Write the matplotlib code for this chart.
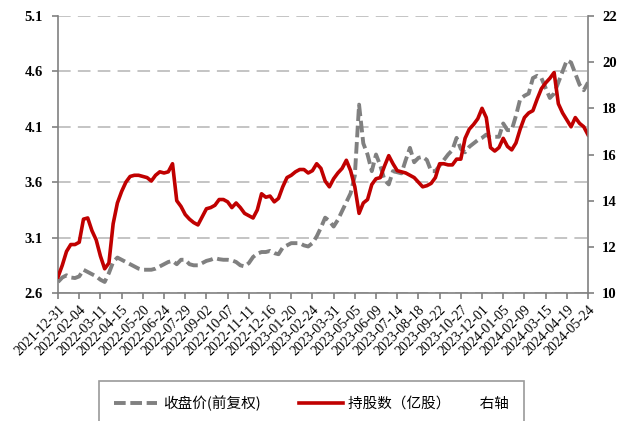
import matplotlib
matplotlib.use('Agg')
import matplotlib.pyplot as plt
import matplotlib.dates as mdates
import numpy as np
import pandas as pd

# weekly data
dates = pd.date_range('2021-12-31', periods=126, freq='7D')

price = [2.70, 2.74, 2.76, 2.74, 2.735, 2.75, 2.81, 2.79, 2.77, 2.75,
         2.72, 2.70, 2.78, 2.88, 2.92, 2.90, 2.88, 2.86, 2.84, 2.82,
         2.81, 2.81, 2.81, 2.82, 2.84, 2.86, 2.88, 2.89, 2.86, 2.90,
         2.90, 2.86, 2.85, 2.85, 2.87, 2.89, 2.90, 2.915, 2.905, 2.90,
         2.90, 2.895, 2.88, 2.85, 2.84, 2.87, 2.925, 2.955, 2.97, 2.97,
         2.98, 2.96, 2.95, 3.01, 3.03, 3.05, 3.05, 3.05, 3.03, 3.02,
         3.05, 3.11, 3.19, 3.28, 3.25, 3.20, 3.26, 3.34, 3.42, 3.50,
         3.66, 4.30, 3.95, 3.85, 3.70, 3.85, 3.75, 3.62, 3.58, 3.70,
         3.69, 3.68, 3.80, 3.91, 3.78, 3.82, 3.83, 3.80, 3.70, 3.70,
         3.75, 3.80, 3.85, 3.89, 4.00, 3.90, 3.87, 3.92, 3.95, 3.98,
         4.00, 4.03, 4.00, 4.01, 4.01, 4.13, 4.07, 4.07, 4.20, 4.35,
         4.38, 4.40, 4.54, 4.56, 4.54, 4.45, 4.36, 4.40, 4.50, 4.60,
         4.70, 4.68, 4.58, 4.48, 4.43, 4.50]

shares = [10.7, 11.2, 11.8, 12.1, 12.1, 12.2, 13.2, 13.25, 12.7, 12.3,
          11.6, 11.05, 11.3, 13.0, 13.9, 14.4, 14.8, 15.05, 15.1, 15.1,
          15.05, 15.0, 14.85, 15.1, 15.25, 15.2, 15.25, 15.6, 14.0, 13.75,
          13.4, 13.2, 13.05, 12.95, 13.3, 13.65, 13.7, 13.8, 14.05, 14.05,
          13.95, 13.7, 13.9, 13.7, 13.45, 13.35, 13.25, 13.6, 14.3, 14.15,
          14.2, 13.95, 14.1, 14.6, 15.0, 15.1, 15.25, 15.35, 15.35, 15.2,
          15.3, 15.6, 15.4, 14.85, 14.6, 14.95, 15.2, 15.4, 15.75, 15.3,
          14.6, 13.45, 13.9, 14.05, 14.7, 14.95, 15.0, 15.5, 15.95, 15.6,
          15.3, 15.25, 15.2, 15.1, 15.0, 14.8, 14.6, 14.65, 14.75, 15.0,
          15.6, 15.6, 15.55, 15.55, 15.8, 15.8, 16.7, 17.1, 17.3, 17.55,
          18.0, 17.6, 16.3, 16.15, 16.3, 16.7, 16.35, 16.2, 16.5, 17.1,
          17.6, 17.8, 17.9, 18.4, 18.85, 19.1, 19.3, 19.55, 18.2, 17.8,
          17.5, 17.2, 17.6, 17.35, 17.2, 16.85]

tick_dates = pd.date_range('2021-12-31', '2024-05-24', freq='35D')

plt.rcParams['font.family'] = ['Liberation Serif', 'Noto Sans CJK SC']

fig = plt.figure(figsize=(6.18, 4.21), dpi=100)
ax = fig.add_axes([0.0939, 0.304, 0.8576, 0.658])
ax2 = ax.twinx()

ax.plot(dates, price, color='#808080', lw=2.8, linestyle=(0, (3, 1.2)),
        label='收盘价(前复权)')
ax2.plot(dates, shares, color='#C00000', lw=2.6,
         label='持股数（亿股）　　右轴')

ax.set_ylim(2.6, 5.1)
ax.set_yticks(np.arange(2.6, 5.11, 0.5))
ax.yaxis.set_major_formatter(matplotlib.ticker.FormatStrFormatter('%.1f'))
ax2.set_ylim(10, 22)
ax2.set_yticks(range(10, 23, 2))
ax.set_xlim(dates[0], dates[-1])

ax.yaxis.grid(True, color='#BFBFBF', linestyle=(0, (7, 4)), lw=1.3)
ax.set_axisbelow(True)

ax.set_xticks(tick_dates)
ax.xaxis.set_major_formatter(mdates.DateFormatter('%Y-%m-%d'))
for lab in ax.get_xticklabels():
    lab.set_rotation(45)
    lab.set_ha('right')
    lab.set_rotation_mode('anchor')
    lab.set_fontsize(10)

for a in (ax, ax2):
    a.spines['top'].set_visible(False)
    for s in ('left', 'right', 'bottom'):
        a.spines[s].set_color('#808080')
        a.spines[s].set_linewidth(1.2)
    a.tick_params(colors='#808080', length=4, width=1.2, labelcolor='black')
ax.spines['right'].set_visible(False)
ax2.spines['left'].set_visible(False)
ax2.spines['bottom'].set_visible(False)
ax.tick_params(axis='y', labelsize=10.5, pad=7)
ax2.tick_params(axis='y', labelsize=10.5, pad=6)
for lab in ax.get_yticklabels() + ax2.get_yticklabels():
    lab.set_fontweight('bold')

h1, l1 = ax.get_legend_handles_labels()
h2, l2 = ax2.get_legend_handles_labels()
leg = fig.legend(h1 + h2, l1 + l2, loc='center', bbox_to_anchor=(0.504, 0.043),
                 ncol=2, frameon=True, fancybox=False, edgecolor='#808080',
                 handlelength=3, handletextpad=0.4, borderpad=1.0,
                 columnspacing=2.6,
                 prop={'family': ['Noto Sans CJK SC'], 'size': 10.5})
leg.get_frame().set_linewidth(1.2)

fig.savefig('out.png', dpi=100)
